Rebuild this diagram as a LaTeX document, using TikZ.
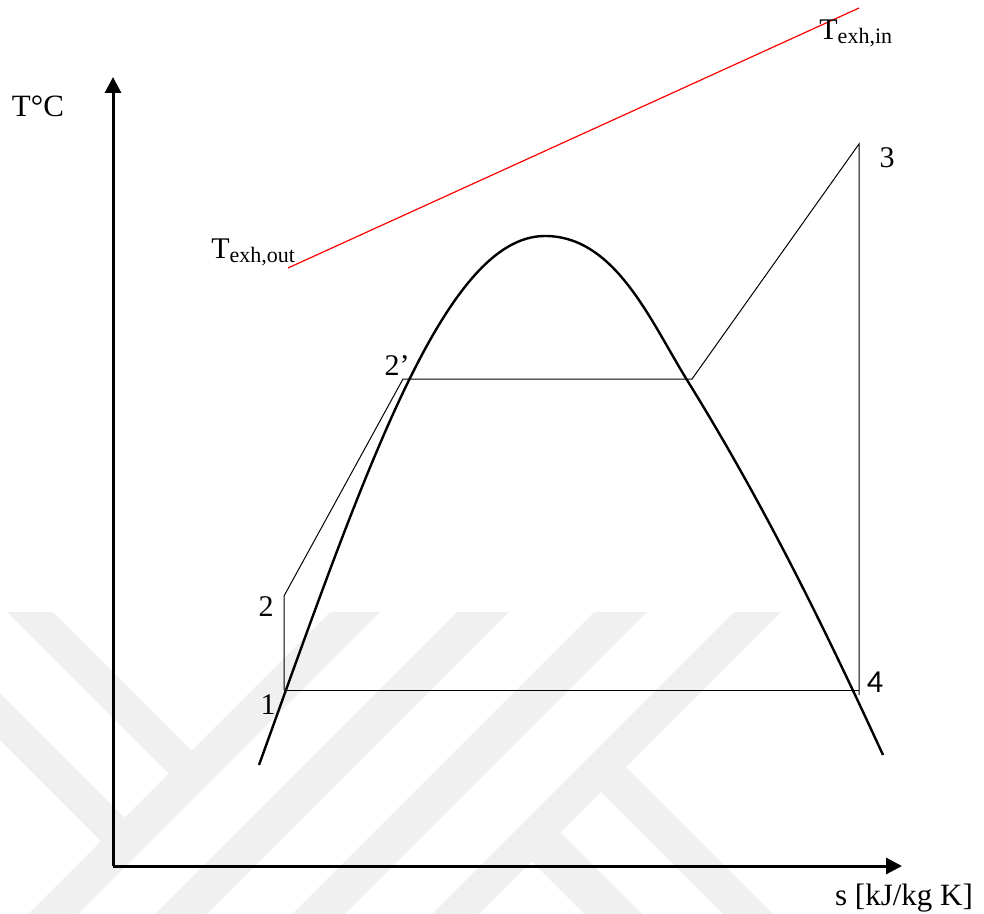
\documentclass[tikz,border=0pt]{standalone}
\usepackage{fontspec}
\setmainfont{Liberation Serif}
\newfontfamily\calfont{Carlito}
\usetikzlibrary{arrows.meta}
\newcommand\exhsub[1]{{\fontsize{11}{13}\selectfont\raisebox{-2pt}{#1}}}
\begin{document}
\begin{tikzpicture}[x=0.5pt,y=-0.5pt,
  wm/.style={fill=black!6,draw=none},
  axis/.style={line width=1.5pt,-{Triangle[length=8pt,width=8pt]}},
  dome/.style={line width=1.2pt},
  cyc/.style={line width=0.5pt},
  lbl/.style={inner sep=0pt,font=\fontsize{15}{18}\selectfont}]
\useasboundingbox (0,0) rectangle (984,914);
% watermark
\fill[wm] (7,612) -- (53,612) -- (191.5,750.5) -- (168.5,773.5) -- cycle;
\fill[wm] (330,612) -- (380,612) -- (78,914) -- (28,914) -- cycle;
\fill[wm] (0,693) -- (124.5,817.5) -- (101,841) -- (0,740) -- cycle;
\fill[wm] (457,612) -- (509,612) -- (207,914) -- (155,914) -- cycle;
\fill[wm] (594,612) -- (647,612) -- (345,914) -- (292,914) -- cycle;
\fill[wm] (734,612) -- (781,612) -- (479,914) -- (432,914) -- cycle;
\fill[wm] (626,767) -- (773,914) -- (723,914) -- (601,792) -- cycle;
\fill[wm] (560.5,832.5) -- (642,914) -- (584,914) -- (531.5,861.5) -- cycle;
% axes
\coordinate (O) at (113,866);
\coordinate (yt) at (113,77);
\coordinate (xt) at (902,866);
\draw[axis] (O) -- (yt);
\draw[axis] (O) -- (xt);
\node[lbl,font=\fontsize{15.5}{18}\selectfont] (tlab) at (38,106) {T°C};
\node[lbl,font=\fontsize{15.5}{18}\selectfont] (slab) at (904,898) {s [kJ/kg K]};
% exhaust line
\coordinate (rA) at (288,268);
\coordinate (rB) at (859,8);
\draw[red,line width=0.6pt] (rA) -- (rB);
\node[lbl,anchor=base west] (tout) at (211,259) {T\exhsub{exh,out}};
\node[lbl,anchor=base west] (tin) at (819,40) {T\exhsub{exh,in}};
% dome
\coordinate (dL) at (259,765);
\coordinate (dT) at (545,236);
\coordinate (dG) at (687,380);
\coordinate (dR) at (883,755);
\draw[dome] (dL) .. controls (366,468) and (445,236) .. (dT)
  .. controls (615,236) and (650,320) .. (dG)
  .. controls (764.5,505) and (825.5,630) .. (dR);
% cycle
\coordinate (p1) at (284,690);
\coordinate (p2) at (284,596);
\coordinate (p2p) at (403,379);
\coordinate (pg) at (692,379);
\coordinate (p3) at (859,144);
\coordinate (p4) at (859,690);
\coordinate (p4b) at (859,695);
\draw[cyc] (p1) -- (p2) -- (p2p) -- (pg) -- (p3) -- (p4b);
\draw[cyc] (p1) -- (p4);
\node[lbl] (l1) at (268,705) {1};
\node[lbl] (l2) at (266,607) {2};
\node[lbl] (l2p) at (397,366) {2’};
\node[lbl] (l3) at (887,158) {3};
\node[lbl,font=\calfont\fontsize{16}{18}\selectfont] (l4) at (875,682) {4};
\end{tikzpicture}
\end{document}
